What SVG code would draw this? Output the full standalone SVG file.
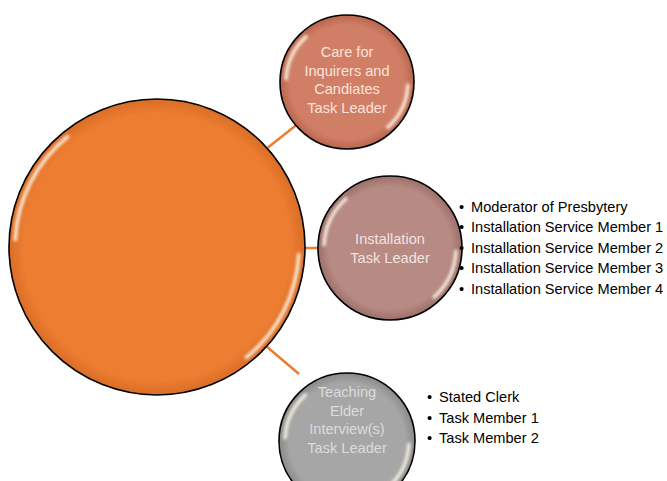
<svg xmlns="http://www.w3.org/2000/svg" width="667" height="481" viewBox="0 0 667 481">
<defs>
<filter id="blur" x="-20%" y="-20%" width="140%" height="140%"><feGaussianBlur stdDeviation="1.5"/></filter>
<radialGradient id="gOrange" cx="50%" cy="50%" r="50%"><stop offset="0.9" stop-color="#ED7D31"/><stop offset="1" stop-color="#D96E27"/></radialGradient>
<radialGradient id="gBrown" cx="50%" cy="50%" r="50%"><stop offset="0.85" stop-color="#D07F66"/><stop offset="1" stop-color="#B8654D"/></radialGradient>
<radialGradient id="gPink" cx="50%" cy="50%" r="50%"><stop offset="0.85" stop-color="#B78A84"/><stop offset="1" stop-color="#9C706A"/></radialGradient>
<radialGradient id="gGray" cx="50%" cy="50%" r="50%"><stop offset="0.85" stop-color="#A6A6A6"/><stop offset="1" stop-color="#8A8A8A"/></radialGradient>
</defs>
<style>
.rim{fill:none;stroke:#000;stroke-width:1.6}
.hl{fill:none;stroke:#FFF8E8;stroke-opacity:0.9;filter:url(#blur);stroke-linecap:round}
.lbl{font-family:"Liberation Sans",Arial,sans-serif;font-size:14.6px;text-anchor:middle}
.blt{font-family:"Liberation Sans",Arial,sans-serif;font-size:14.6px;fill:#000}
.con{stroke:#ED7D31;stroke-width:2.5;fill:none}
</style>
<g id="connectors">
<line class="con" x1="266" y1="149" x2="299" y2="123"/>
<line class="con" x1="304" y1="248" x2="318" y2="248"/>
<line class="con" x1="266" y1="346" x2="299" y2="374"/>
</g>
<g id="center">
<circle cx="157" cy="247" r="148" fill="url(#gOrange)"/>
<circle cx="157" cy="247" r="142" pathLength="360" class="hl" stroke-width="3.5" stroke-dasharray="48 132" stroke-dashoffset="-3"/>
<circle class="rim" cx="157" cy="247" r="148"/>
</g>
<g id="care">
<circle cx="347" cy="82" r="67" fill="url(#gBrown)"/>
<circle cx="347" cy="82" r="61" pathLength="360" class="hl" stroke-width="3.5" stroke-dasharray="45 135" stroke-dashoffset="-3"/>
<circle class="rim" cx="347" cy="82" r="67"/>
<text class="lbl" fill="#FBE3DA"><tspan x="347" y="57">Care for</tspan><tspan x="347" y="76">Inquirers and</tspan><tspan x="347" y="94">Candiates</tspan><tspan x="347" y="113">Task Leader</tspan></text>
</g>
<g id="installation">
<circle cx="390" cy="248" r="72" fill="url(#gPink)"/>
<circle cx="390" cy="248" r="66" pathLength="360" class="hl" stroke-width="3.5" stroke-dasharray="45 135" stroke-dashoffset="-3"/>
<circle class="rim" cx="390" cy="248" r="72"/>
<text class="lbl" fill="#F2E2E0"><tspan x="390" y="244">Installation</tspan><tspan x="390" y="263">Task Leader</tspan></text>
</g>
<g id="interview">
<circle cx="347" cy="441" r="68" fill="url(#gGray)"/>
<circle cx="347" cy="441" r="62" pathLength="360" class="hl" stroke-width="3.5" stroke-dasharray="45 135" stroke-dashoffset="-3"/>
<circle class="rim" cx="347" cy="441" r="68"/>
<text class="lbl" fill="#DCDCDC"><tspan x="347" y="397">Teaching</tspan><tspan x="347" y="416">Elder</tspan><tspan x="347" y="434">Interview(s)</tspan><tspan x="347" y="453">Task Leader</tspan></text>
</g>
<g id="installation-list">
<text class="blt"><tspan x="459" y="212">•</tspan><tspan x="471" y="212">Moderator of Presbytery</tspan>
<tspan x="459" y="232">•</tspan><tspan x="471" y="232">Installation Service Member 1</tspan>
<tspan x="459" y="253">•</tspan><tspan x="471" y="253">Installation Service Member 2</tspan>
<tspan x="459" y="273">•</tspan><tspan x="471" y="273">Installation Service Member 3</tspan>
<tspan x="459" y="294">•</tspan><tspan x="471" y="294">Installation Service Member 4</tspan></text>
</g>
<g id="interview-list">
<text class="blt"><tspan x="427" y="402">•</tspan><tspan x="439" y="402">Stated Clerk</tspan>
<tspan x="427" y="423">•</tspan><tspan x="439" y="423">Task Member 1</tspan>
<tspan x="427" y="443">•</tspan><tspan x="439" y="443">Task Member 2</tspan></text>
</g>
</svg>
